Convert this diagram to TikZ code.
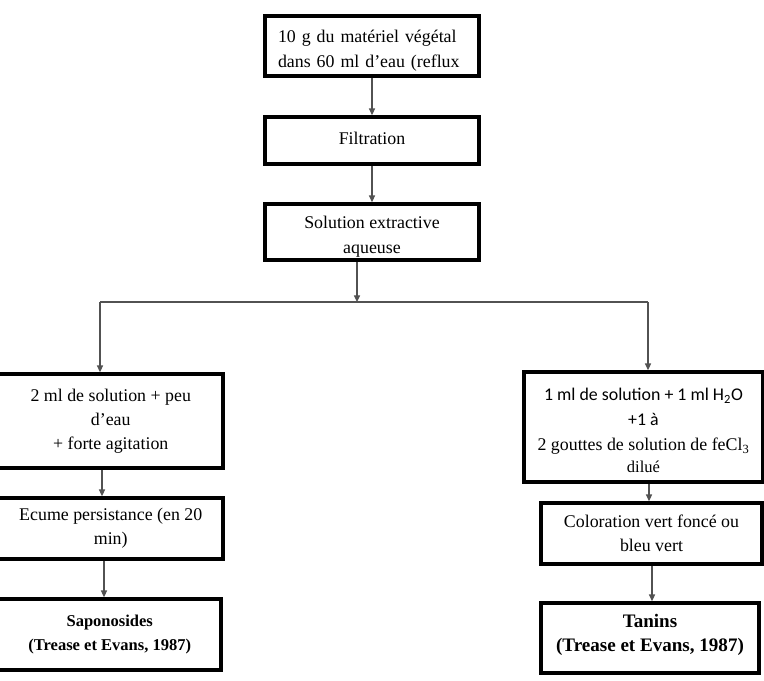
\documentclass[tikz,border=0pt]{standalone}
\usepackage{fontspec}
\setmainfont{Liberation Serif}
\newfontfamily\calib{Carlito}
\usetikzlibrary{arrows.meta}
\begin{document}
\begin{tikzpicture}[x=0.75pt,y=-0.75pt,
  bx/.style n args={2}{draw=black, line width=2.8pt, fill=white, inner sep=0pt,
     minimum width=#1*0.75pt, minimum height=#2*0.75pt, align=center,
     font=\fontsize{13.4}{18}\selectfont},
  txt/.style={inner sep=0pt, align=center, font=\fontsize{13.4}{18.5}\selectfont},
  conn/.style={draw=black!68, line width=0.9pt},
  arr/.style={conn, -{Triangle[length=5pt,width=4.6pt]}}]
\useasboundingbox (0,0) rectangle (764,681);
% top column
\node[bx={214}{60}] (A) at (372,46) {};
\node[txt, text width=141pt, align=left, font=\fontsize{13.4}{18.75}\selectfont] (At) at (372,51)
  {10 g du matériel végétal\\dans 60 ml d’eau (reflux};
\node[bx={214}{47}] (F) at (372,140.5) {};
\node[txt] (Ft) at (372,138) {Filtration};
\node[bx={214}{56}] (S) at (372,232) {};
\node[txt] (St) at (372,236.5) {Solution extractive\\aqueuse};
% left column
\node[bx={224.5}{94}] (L1) at (110.75,421)
  {2 ml de solution + peu\\d’eau\\+ forte agitation};
\node[bx={224.5}{61}] (L2) at (110.75,528.5)
  {Ecume persistance (en 20\\min)};
\node[bx={222.5}{71}, font=\bfseries\fontsize{12.4}{18}\selectfont] (L3) at (109.75,634.5)
  {Saponosides\\(Trease et Evans, 1987)};
% right column
\node[bx={239}{110}] (R1) at (643.5,427) {};
\node[txt, font=\fontsize{13.4}{19}\selectfont] (R1t) at (643.5,430)
  {{\calib 1 ml de solution + 1 ml H\textsubscript{2}O}\\{\calib +1 à}\\2 gouttes de solution de feCl\textsubscript{3}\\[-3pt]{\fontsize{12.4}{14}\selectfont dilué}};
\node[bx={221}{61}] (R2) at (651.5,533.5)
  {Coloration vert foncé ou\\bleu vert};
\node[bx={218}{70}] (R3) at (650,638) {};
\node[txt, font=\bfseries\fontsize{14.3}{18}\selectfont] (R3t) at (650,634.5)
  {Tanins\\(Trease et Evans, 1987)};
% junction coordinates
\coordinate (j) at (357,302);
\coordinate (hl) at (100,302);
\coordinate (hr) at (648,302);
% connectors
\draw[arr] (A) -- (F);
\draw[arr] (F) -- (S);
\draw[arr] (S.south -| j) -- (j);
\draw[conn] (hl) -- (hr);
\draw[arr] (hl) -- (L1.north -| hl);
\draw[arr] (hr) -- (R1.north -| hr);
\draw[arr] (L1.south -| 102,0) -- (L2.north -| 102,0);
\draw[arr] (L2.south -| 104,0) -- (L3.north -| 104,0);
\draw[arr] (R1.south -| 649,0) -- (R2.north -| 649,0);
\draw[arr] (R2.south -| 652,0) -- (R3.north -| 652,0);
\end{tikzpicture}
\end{document}
